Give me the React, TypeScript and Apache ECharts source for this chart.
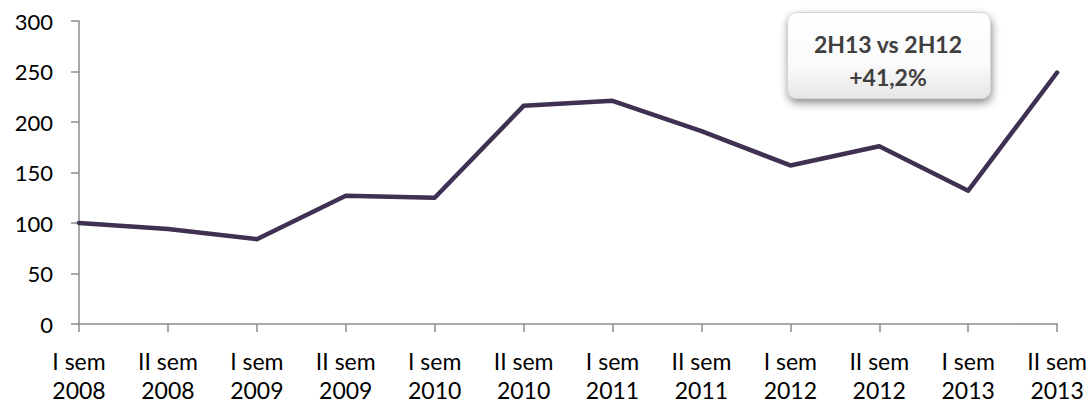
import React, { useEffect, useRef } from "react";
import * as echarts from "echarts";

const categories = [
  "I sem\n2008", "II sem\n2008", "I sem\n2009", "II sem\n2009", "I sem\n2010", "II sem\n2010",
  "I sem\n2011", "II sem\n2011", "I sem\n2012", "II sem\n2012", "I sem\n2013", "II sem\n2013",
];
const values = [100, 94, 84, 127, 125, 216, 221, 191, 157, 176, 132, 249];
const annotationLines = ["2H13 vs 2H12", "+41,2%"];

const FONT = "Lato, 'Noto Sans', sans-serif";

export default function App() {
  const ref = useRef<HTMLDivElement>(null);
  useEffect(() => {
    if (!ref.current) return;
    const chart = echarts.init(ref.current, undefined, { renderer: "svg" });
    chart.setOption({
      animation: false,
      backgroundColor: "#ffffff",
      grid: { left: 79, right: 32, top: 21, bottom: 79, containLabel: false },
      xAxis: {
        type: "category",
        data: categories,
        boundaryGap: false,
        axisLine: { lineStyle: { color: "#8c8c8c", width: 1.5 } },
        axisTick: { show: true, length: 8, alignWithLabel: true, lineStyle: { color: "#8c8c8c", width: 1.5 } },
        axisLabel: {
          color: "#000000",
          fontFamily: FONT,
          fontSize: 23,
          lineHeight: 29,
          margin: 22,
          interval: 0,
        },
      },
      yAxis: {
        type: "value",
        min: 0,
        max: 300,
        interval: 50,
        splitLine: { show: false },
        axisLine: { show: true, lineStyle: { color: "#8c8c8c", width: 1.5 } },
        axisTick: { show: true, length: 8, lineStyle: { color: "#8c8c8c", width: 1.5 } },
        axisLabel: { color: "#000000", fontFamily: FONT, fontSize: 22, margin: 26 },
      },
      series: [
        {
          type: "line",
          data: values,
          symbol: "none",
          lineStyle: { color: "#3f3152", width: 4.5, cap: "round", join: "round" },
        },
      ],
      graphic: [
        {
          type: "rect",
          left: 787,
          top: 12,
          shape: { width: 203, height: 86, r: 9 },
          style: {
            fill: new echarts.graphic.LinearGradient(0, 0, 0, 1, [
              { offset: 0, color: "#ffffff" },
              { offset: 0.6, color: "#fafafa" },
              { offset: 1, color: "#e6e6e6" },
            ]),
            stroke: "#d4d4d4",
            lineWidth: 1,
            shadowBlur: 8,
            shadowOffsetX: 1,
            shadowOffsetY: 4,
            shadowColor: "rgba(0,0,0,0.45)",
          },
          z: 10,
        },
        {
          type: "text",
          x: 888,
          y: 60,
          style: {
            text: annotationLines.join("\n"),
            fill: "#3f3f3f",
            font: `bold 23px ${FONT}`,
            lineHeight: 33,
            align: "center",
            verticalAlign: "middle",
          },
          z: 11,
        },
      ],
    });
    return () => chart.dispose();
  }, []);
  return (
    <div
      ref={ref}
      style={{ position: "absolute", left: 0, top: 0, width: 1090, height: 404 }}
    />
  );
}
